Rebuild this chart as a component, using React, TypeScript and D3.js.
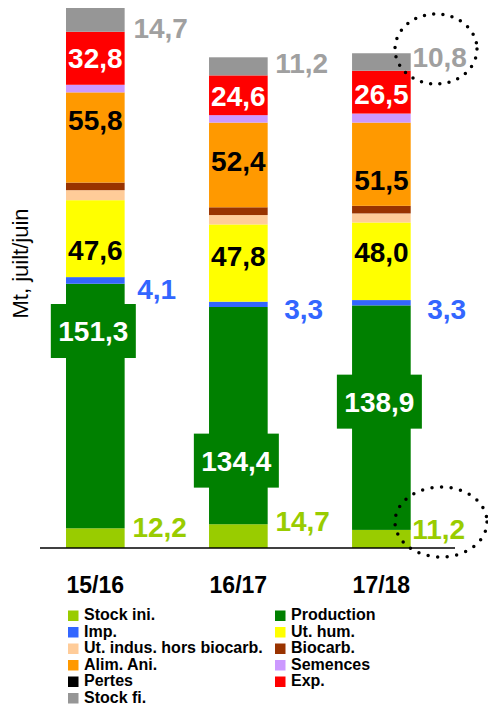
import React from "react";
import { scaleBand, scaleLinear, stack, formatLocale } from "d3";

// campagnes
const campaigns = ["15/16", "16/17", "17/18"];

// stack order, bottom -> top
const seriesKeys = ["stockIni", "prod", "imp", "utHum", "utIndus", "biocarb", "alimAni", "semences", "pertes", "exp", "stockFi"];
const seriesNames = ["Stock ini.", "Production", "Imp.", "Ut. hum.", "Ut. indus. hors biocarb.", "Biocarb.", "Alim. Ani.", "Semences", "Pertes", "Exp.", "Stock fi."];
const seriesColors = ["#99cc00", "#008000", "#3366ff", "#ffff00", "#ffcc99", "#993300", "#ff9900", "#cc99ff", "#000000", "#ff0000", "#969696"];

// Mt per campaign
const stockIni = [12.2, 14.7, 11.2];
const prod = [151.3, 134.4, 138.9];
const imp = [4.1, 3.3, 3.3];
const utHum = [47.6, 47.8, 48.0];
const utIndus = [6.2, 5.8, 5.6];
const biocarb = [4.7, 4.8, 4.7];
const alimAni = [55.8, 52.4, 51.5];
const semences = [4.7, 4.6, 5.6];
const pertes = [0, 0, 0];
const exp = [32.8, 24.6, 26.5];
const stockFi = [14.7, 11.2, 10.8];

const values: Record<string, number[]> = { stockIni, prod, imp, utHum, utIndus, biocarb, alimAni, semences, pertes, exp, stockFi };

// label tweaks (px), the original had hand placed labels
const inDy: Record<string, number[]> = { prod: [-75, 45, -16], utHum: [11, -7, -9], alimAni: [-17, -4, 16], exp: [0, 1, 2] };
const inColor: Record<string, string> = { prod: "#fff", utHum: "#000", alimAni: "#000", exp: "#fff" };
const outDy: Record<string, number[]> = { stockFi: [8, -3, -5], imp: [9, 5, 6], stockIni: [-11, -15, -10] };
const outDx: Record<string, number[]> = { stockFi: [36, 34, 29], imp: [32, 36, 36], stockIni: [35, 35, 28] };
const outColor: Record<string, string> = { stockFi: "#a0a0a0", imp: "#3366ff", stockIni: "#99cc00" };

const fr = formatLocale({ decimal: ",", thousands: " ", grouping: [3], currency: ["", " €"] });
const fmt = fr.format(".1f");

const W = 488;
const H = 708;
const baseY = 548;
const font = "'Liberation Sans', Arial, sans-serif";

export default function App() {
  const rows = campaigns.map((c, i) => {
    const r: any = { campaign: c };
    seriesKeys.forEach((k) => (r[k] = values[k][i]));
    return r;
  });
  const series = stack().keys(seriesKeys)(rows);
  const maxTotal = Math.max(...rows.map((r) => seriesKeys.reduce((s, k) => s + r[k], 0)));

  const x = scaleBand().domain(campaigns).range([66, 410.7]).paddingInner(0.59);
  const y = scaleLinear().domain([0, maxTotal]).range([baseY, 8]);
  const bw = x.bandwidth();

  const segMid = (k: string, i: number) => {
    const s = series[seriesKeys.indexOf(k)][i];
    return (y(s[0]) + y(s[1])) / 2;
  };

  const legendRows = Math.ceil(seriesKeys.length / 2);

  return (
    <svg width={W} height={H} style={{ position: "absolute", left: 0, top: 0, background: "#fff" }} fontFamily={font}>
      {/* bars */}
      {series.map((s, si) => (
        <g key={seriesKeys[si]} fill={seriesColors[si]}>
          {s.map((d, i) => (
            <rect key={i} x={x(campaigns[i])} y={y(d[1])} width={bw} height={Math.max(0, y(d[0]) - y(d[1]))} />
          ))}
        </g>
      ))}

      {/* labels inside the bars */}
      {Object.keys(inDy).map((k) =>
        campaigns.map((c, i) => {
          const cx = x(c)! + bw / 2;
          const cy = segMid(k, i) + inDy[k][i];
          return (
            <g key={k + i}>
              {k === "prod" && <rect x={cx - 44.5} y={cy - 27} width={85} height={54} fill="#008000" />}
              <text x={k === "prod" ? cx - 2 : cx} y={cy + 10} textAnchor="middle" fontSize={28} fontWeight="bold" fill={inColor[k]}>
                {fmt(values[k][i])}
              </text>
            </g>
          );
        })
      )}

      {/* labels beside the bars */}
      {Object.keys(outDy).map((k) =>
        campaigns.map((c, i) => (
          <text key={k + i} x={x(c)! + bw + outDx[k][i]} y={segMid(k, i) + outDy[k][i] + 10} textAnchor="middle" fontSize={28} fontWeight="bold" fill={outColor[k]}>
            {fmt(values[k][i])}
          </text>
        ))
      )}

      {/* base line */}
      <line x1={40} x2={455} y1={baseY} y2={baseY} stroke="#000" strokeWidth={1.5} />

      {/* x labels */}
      {campaigns.map((c) => (
        <text key={c} x={x(c)! + bw / 2} y={593} textAnchor="middle" fontSize={23} fontWeight="bold" fill="#000">
          {c}
        </text>
      ))}

      {/* y title */}
      <text transform="translate(28,263.5) rotate(-90)" textAnchor="middle" fontSize={22} fill="#000">
        Mt, juilt/juin
      </text>

      {/* dotted highlight circles on 17/18 */}
      <ellipse cx={436} cy={49} rx={41} ry={35} fill="none" stroke="#000" strokeWidth={3.5} strokeLinecap="round" strokeDasharray="0 9.3" />
      <ellipse cx={441} cy={522} rx={46} ry={35} fill="none" stroke="#000" strokeWidth={3.5} strokeLinecap="round" strokeDasharray="0 9.6" />

      {/* legend, 2 columns row-major */}
      {seriesKeys.map((k, i) => {
        const col = i % 2;
        const row = Math.floor(i / 2);
        const lx = col === 0 ? 68 : 275;
        const ly = 620 + row * 16.5;
        return (
          <g key={k}>
            <rect x={lx} y={ly - 9.5} width={10.5} height={10.5} fill={seriesColors[i]} />
            <text x={lx + 16} y={ly} fontSize={16} fontWeight="bold" fill="#000">
              {seriesNames[i]}
            </text>
          </g>
        );
      })}
      {legendRows > 0 && null}
    </svg>
  );
}
